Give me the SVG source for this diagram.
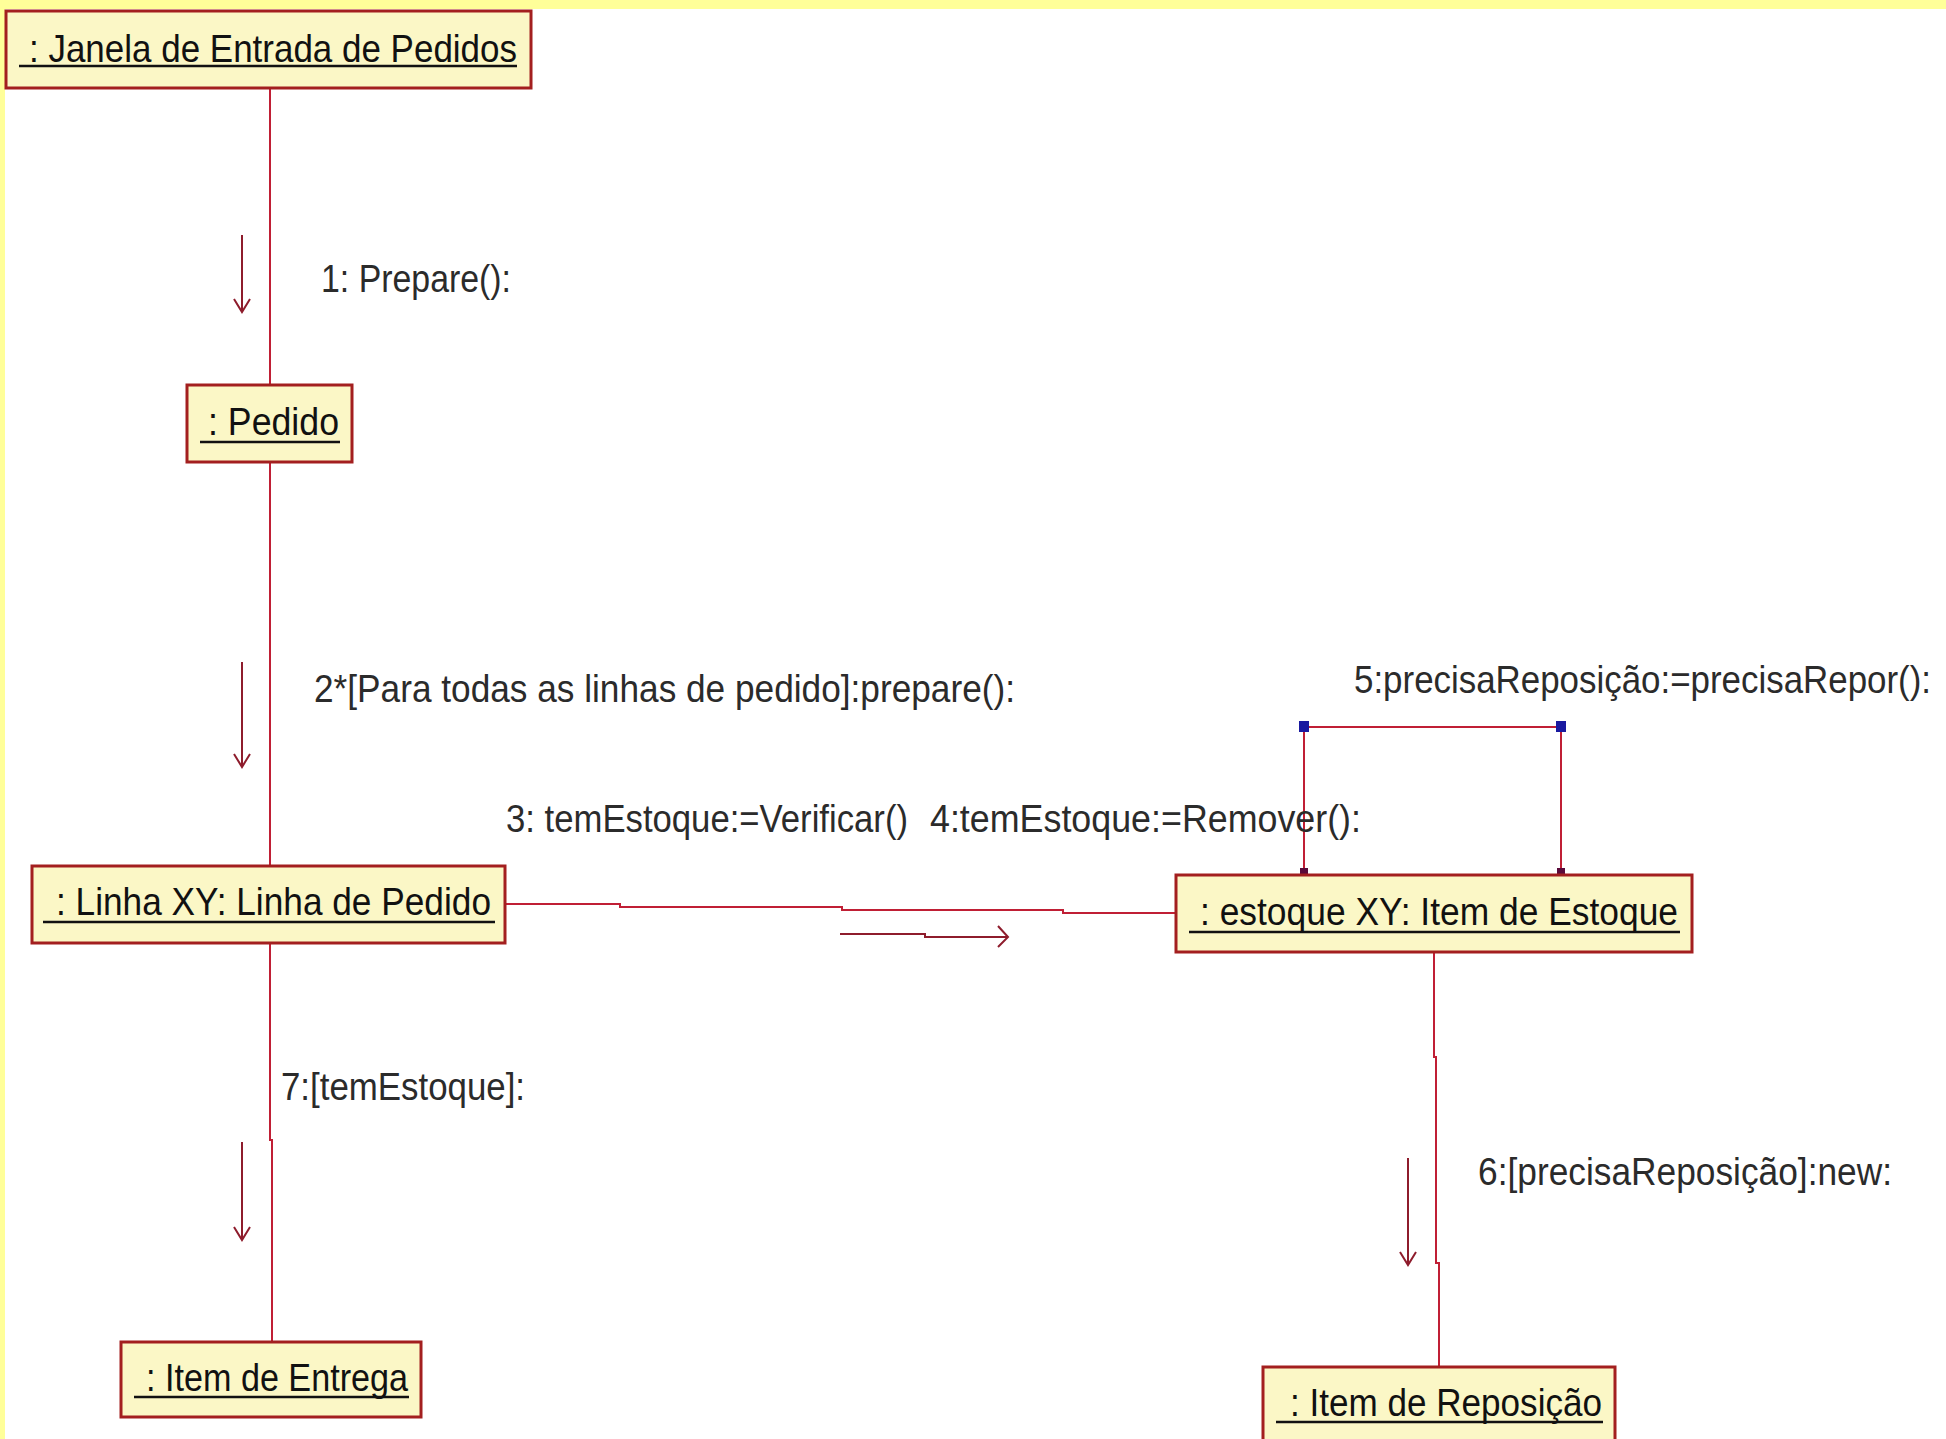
<svg xmlns="http://www.w3.org/2000/svg" width="1946" height="1439" viewBox="0 0 1946 1439">
<style>
.bg{fill:#ffffff}
.band{fill:#ffff99}
.box{fill:#fbf7c6;stroke:#a31f1f;stroke-width:3}
.name{font-family:"Liberation Sans",Arial,sans-serif;font-size:39px;fill:#111111}
.ul{stroke:#111111;stroke-width:2.5}
.lbl{font-family:"Liberation Sans",Arial,sans-serif;font-size:38px;fill:#2b2b2b}
.link{fill:none;stroke:#c01f35;stroke-width:2}
.msg{fill:none;stroke:#8e1c2c;stroke-width:2}
.hb{fill:#1a1aa0}
.hd{fill:#5a0a3a}
</style>
<rect class="bg" x="0" y="0" width="1946" height="1439"/>
<rect class="band" x="0" y="0" width="1946" height="9"/>
<rect class="band" x="0" y="0" width="5" height="1439"/>

<g id="connectors">
  <polyline class="link" points="270,88 270,385"/>
  <polyline class="link" points="270,462 270,866"/>
  <polyline class="link" points="270,943 270,1140 272,1140 272,1341"/>
  <polyline class="link" points="506,904 620,904 620,907 842,907 842,910 1063,910 1063,913 1176,913"/>
  <polyline class="link" points="1304,873 1304,727 1561,727 1561,873"/>
  <polyline class="link" points="1434,952 1434,1057 1436,1057 1436,1263 1439,1263 1439,1367"/>
  <rect class="hb" x="1299" y="721" width="10" height="11"/>
  <rect class="hb" x="1556" y="721" width="10" height="11"/>
  <rect class="hd" x="1300" y="868" width="8" height="6"/>
  <rect class="hd" x="1557" y="868" width="8" height="6"/>

  <polyline class="msg" points="242,235 242,312"/>
  <polyline class="msg" points="234,299 242,312 250,299"/>
  <polyline class="msg" points="242,662 242,767"/>
  <polyline class="msg" points="234,754 242,767 250,754"/>
  <polyline class="msg" points="242,1142 242,1240"/>
  <polyline class="msg" points="234,1227 242,1240 250,1227"/>
  <polyline class="msg" points="1408,1158 1408,1265"/>
  <polyline class="msg" points="1400,1252 1408,1265 1416,1252"/>
  <polyline class="msg" points="840,934 925,934 925,937 1008,937"/>
  <polyline class="msg" points="998,926 1008,937 998,947"/>

  <text class="lbl" x="321" y="292" textLength="190" lengthAdjust="spacingAndGlyphs">1: Prepare():</text>
  <text class="lbl" x="314" y="702" textLength="701" lengthAdjust="spacingAndGlyphs">2*[Para todas as linhas de pedido]:prepare():</text>
  <text class="lbl" x="506" y="832" textLength="402" lengthAdjust="spacingAndGlyphs">3: temEstoque:=Verificar()</text>
  <text class="lbl" x="930" y="832" textLength="431" lengthAdjust="spacingAndGlyphs">4:temEstoque:=Remover():</text>
  <text class="lbl" transform="translate(1354,693) scale(0.86,1)" x="0" y="0" textLength="671" lengthAdjust="spacingAndGlyphs">5:precisaReposição:=precisaRepor():</text>
  <text class="lbl" x="1478" y="1185" textLength="414" lengthAdjust="spacingAndGlyphs">6:[precisaReposição]:new:</text>
  <text class="lbl" x="281" y="1100" textLength="244" lengthAdjust="spacingAndGlyphs">7:[temEstoque]:</text>
</g>

<g id="janela">
  <rect class="box" x="6" y="11" width="525" height="77"/>
  <text class="name" x="29" y="62" textLength="488" lengthAdjust="spacingAndGlyphs">: Janela de Entrada de Pedidos</text>
  <line class="ul" x1="19" y1="66" x2="517" y2="66"/>
</g>

<g id="pedido">
  <rect class="box" x="187" y="385" width="165" height="77"/>
  <text class="name" x="208" y="435" textLength="131" lengthAdjust="spacingAndGlyphs">: Pedido</text>
  <line class="ul" x1="200" y1="442" x2="340" y2="442"/>
</g>

<g id="linha">
  <rect class="box" x="32" y="866" width="473" height="77"/>
  <text class="name" x="56" y="915" textLength="435" lengthAdjust="spacingAndGlyphs">: Linha XY: Linha de Pedido</text>
  <line class="ul" x1="43" y1="922" x2="495" y2="922"/>
</g>

<g id="estoque">
  <rect class="box" x="1176" y="875" width="516" height="77"/>
  <text class="name" x="1200" y="925" textLength="478" lengthAdjust="spacingAndGlyphs">: estoque XY: Item de Estoque</text>
  <line class="ul" x1="1189" y1="932" x2="1680" y2="932"/>
</g>

<g id="entrega">
  <rect class="box" x="121" y="1342" width="300" height="75"/>
  <text class="name" x="146" y="1391" textLength="262" lengthAdjust="spacingAndGlyphs">: Item de Entrega</text>
  <line class="ul" x1="134" y1="1397" x2="409" y2="1397"/>
</g>

<g id="reposicao">
  <rect class="box" x="1263" y="1367" width="352" height="90"/>
  <text class="name" x="1290" y="1416" textLength="312" lengthAdjust="spacingAndGlyphs">: Item de Reposição</text>
  <line class="ul" x1="1276" y1="1422" x2="1603" y2="1422"/>
</g>
</svg>
